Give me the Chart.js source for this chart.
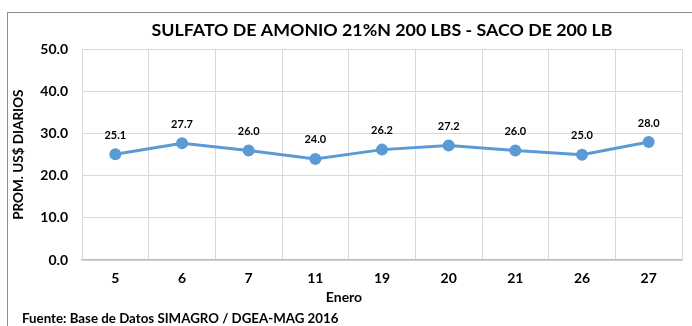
<!DOCTYPE html>
<html lang="es">
<head>
    <meta charset="UTF-8">
    <title>Sulfato de Amonio</title>
    <style>
        html, body {
            margin: 0;
            padding: 0;
            background: #ffffff;
        }

        .wrap {
            position: relative;
            width: 692px;
            height: 326px;
            overflow: hidden;
        }

        /* marco del grafico (solo se ve arriba y a la izquierda) */
        .marco {
            position: absolute;
            left: 7px;
            top: 12px;
            width: 720px;
            height: 340px;
            border-top: 1px solid #8c8c8c;
            border-left: 1px solid #8c8c8c;
        }

        .fuente {
            position: absolute;
            left: 22px;
            top: 310px;
            font-family: Lato, sans-serif;
            font-weight: bold;
            font-size: 13.3px;
            color: #000;
            white-space: nowrap;
        }

        #grafico {
            position: absolute;
            left: 0;
            top: 0;
        }
    </style>
</head>
<body>
    <div class="wrap">
        <div class="marco"></div>
        <canvas id="grafico" width="692" height="326"></canvas>
        <div class="fuente">Fuente: Base de Datos SIMAGRO / DGEA-MAG 2016</div>
    </div>

    <script src="https://cdn.jsdelivr.net/npm/chart.js"></script>
    <script>
        // precios promedio diarios, enero
        const dias = ['5', '6', '7', '11', '19', '20', '21', '26', '27'];
        const precios = [25.1, 27.7, 26.0, 24.0, 26.2, 27.2, 26.0, 25.0, 28.0];
        const ticksY = [0, 10, 20, 30, 40, 50];

        const titulo = 'SULFATO DE AMONIO 21%N 200 LBS - SACO DE 200 LB';
        const tituloEjeX = 'Enero';
        const tituloEjeY = 'PROM. US$ DIARIOS';

        const fuente = 'Lato, sans-serif';

        // etiquetas de valor sobre cada punto y titulo del eje X
        const etiquetas = {
            id: 'etiquetas',
            afterDatasetsDraw(chart) {
                const ctx = chart.ctx;
                const meta = chart.getDatasetMeta(0);
                ctx.save();
                ctx.fillStyle = '#000';
                ctx.font = 'bold 11px ' + fuente;
                ctx.textAlign = 'center';
                ctx.textBaseline = 'middle';
                meta.data.forEach((p, i) => {
                    ctx.fillText(precios[i].toFixed(1), p.x, p.y - 19);
                });
                ctx.font = 'bold 14px ' + fuente;
                ctx.fillText(tituloEjeX, 344, 297);
                ctx.restore();
            }
        };

        new Chart(document.getElementById('grafico'), {
            type: 'line',
            data: {
                labels: dias,
                datasets: [{
                    data: precios,
                    borderColor: '#5b9bd5',
                    backgroundColor: '#5b9bd5',
                    borderWidth: 3,
                    pointRadius: 4.5,
                    pointHoverRadius: 4.5,
                    tension: 0,
                    fill: false
                }]
            },
            options: {
                responsive: false,
                animation: false,
                layout: {
                    padding: { left: 0, right: 10, top: 0, bottom: 18 }
                },
                scales: {
                    x: {
                        offset: true,
                        grid: {
                            offset: true,
                            color: '#d9d9d9',
                            drawTicks: false
                        },
                        border: { color: '#bfbfbf', width: 1.5 },
                        ticks: {
                            padding: 10,
                            color: '#000',
                            font: { family: fuente, weight: 'bold', size: 14 }
                        },
                        afterFit(scale) {
                            scale.height = 48;
                        }
                    },
                    y: {
                        min: 0,
                        max: 50,
                        afterBuildTicks(scale) {
                            scale.ticks = ticksY.map(v => ({ value: v }));
                        },
                        grid: {
                            color: '#d9d9d9',
                            drawTicks: false
                        },
                        border: { color: '#d9d9d9' },
                        ticks: {
                            padding: 14,
                            color: '#000',
                            font: { family: fuente, weight: 'bold', size: 14 },
                            callback: v => v.toFixed(1)
                        },
                        title: {
                            display: true,
                            text: tituloEjeY,
                            color: '#000',
                            font: { family: fuente, weight: 'bold', size: 13.5 },
                            padding: { top: 11, bottom: 0 }
                        },
                        afterFit(scale) {
                            scale.width = 82;
                        }
                    }
                },
                plugins: {
                    legend: { display: false },
                    tooltip: { enabled: false },
                    title: {
                        display: true,
                        fullSize: false,
                        text: titulo,
                        color: '#000',
                        font: { family: fuente, weight: 'bold', size: 17.8 },
                        padding: { top: 20, bottom: 8 }
                    }
                }
            },
            plugins: [etiquetas]
        });
    </script>
</body>
</html>
